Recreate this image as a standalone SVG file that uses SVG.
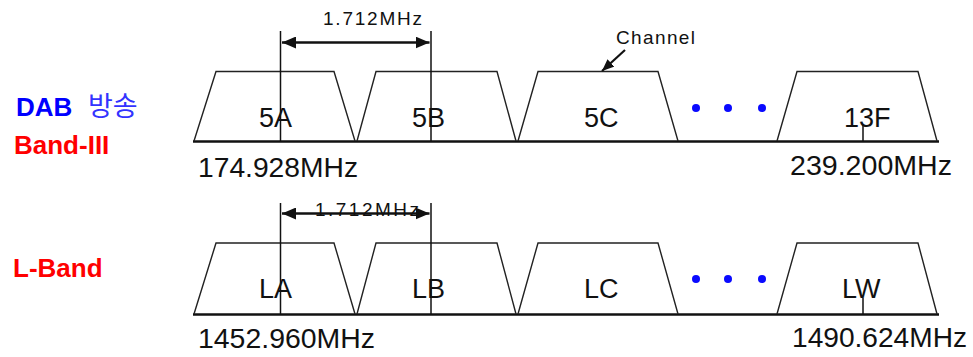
<svg xmlns="http://www.w3.org/2000/svg" width="973" height="357" viewBox="0 0 973 357">
<style>
.tr{fill:none;stroke:#222;stroke-width:1.4}
.base{stroke:#111;stroke-width:2.6}
.vl{stroke:#111;stroke-width:1.5}
.t{font-family:"Liberation Sans",Arial,sans-serif;fill:#111}
.lb{font-size:27px}
.fq{font-size:28px}
.sm{font-size:19px}
.dot{fill:#0a0aff}
.side{font-family:"Liberation Sans",Arial,sans-serif;font-weight:bold;font-size:26px}
</style>
<defs>
<marker id="ah" viewBox="0 0 14 12" refX="14" refY="6" markerWidth="14" markerHeight="12" markerUnits="userSpaceOnUse" orient="auto-start-reverse">
<path d="M0,0 L14,6 L0,12 z" fill="#111"/>
</marker>
<marker id="ah2" viewBox="0 0 12 10" refX="12" refY="5" markerWidth="12" markerHeight="10" markerUnits="userSpaceOnUse" orient="auto">
<path d="M0,0 L12,5 L0,10 z" fill="#111"/>
</marker>
</defs>
<rect width="973" height="357" fill="#fff"/>

<g id="side-labels">
<text class="side" x="16" y="116" fill="#0000ff">DAB</text>
<text x="88" y="116" font-family="'Noto Sans CJK KR','Noto Sans',sans-serif" font-size="27" fill="#3333ff">방송</text>
<text class="side" x="14" y="154" fill="#ff0000">Band-III</text>
<text class="side" x="13" y="277" fill="#ff0000">L-Band</text>
</g>

<!-- Band III -->
<g id="band3-base"><line class="base" x1="193" y1="141.5" x2="939" y2="141.5"/></g>
<g id="ch-5A"><polyline class="tr" points="194,141 216,71.5 334,71.5 355,141"/><text class="t lb" x="259" y="127">5A</text></g>
<g id="ch-5B"><polyline class="tr" points="357,141 376,71.5 497,71.5 516,141"/><text class="t lb" x="412" y="127">5B</text></g>
<g id="ch-5C"><polyline class="tr" points="518,141 538,71.5 658,71.5 678,141"/><text class="t lb" x="584" y="127">5C</text></g>
<g id="ch-13F"><polyline class="tr" points="777,141 797,71.5 918,71.5 937,141"/><text class="t lb" x="844" y="127">13F</text><line class="vl" x1="863" y1="125" x2="863" y2="141"/></g>
<g id="dots-top"><circle class="dot" cx="696" cy="108" r="4"/><circle class="dot" cx="728" cy="108" r="4"/><circle class="dot" cx="762" cy="108" r="4"/></g>
<text class="t fq" x="198" y="177" textLength="160" lengthAdjust="spacingAndGlyphs">174.928MHz</text>
<text class="t fq" x="790" y="175" textLength="162" lengthAdjust="spacingAndGlyphs">239.200MHz</text>
<text class="t sm" x="323" y="25" textLength="99" lengthAdjust="spacing">1.712MHz</text>
<text class="t sm" x="616" y="44" textLength="79" lengthAdjust="spacing">Channel</text>

<!-- L-Band -->
<g id="lband-base"><line class="base" x1="193" y1="314.5" x2="939" y2="314.5"/></g>
<g id="ch-LA"><polyline class="tr" points="194,314 216,243 334,243 355,314"/><text class="t lb" x="259" y="298">LA</text></g>
<g id="ch-LB"><polyline class="tr" points="357,314 376,243 497,243 516,314"/><text class="t lb" x="412" y="298">LB</text></g>
<g id="ch-LC"><polyline class="tr" points="518,314 538,243 658,243 678,314"/><text class="t lb" x="584" y="298">LC</text></g>
<g id="ch-LW"><polyline class="tr" points="777,314 797,243 918,243 937,314"/><text class="t lb" x="842" y="298">LW</text><line class="vl" x1="863" y1="298" x2="863" y2="314"/></g>
<g id="dots-bottom"><circle class="dot" cx="696" cy="279" r="4"/><circle class="dot" cx="728" cy="279" r="4"/><circle class="dot" cx="762" cy="279" r="4"/></g>
<text class="t fq" x="198" y="348" textLength="177" lengthAdjust="spacingAndGlyphs">1452.960MHz</text>
<text class="t fq" x="792" y="347" textLength="175" lengthAdjust="spacingAndGlyphs">1490.624MHz</text>
<text class="t sm" x="315" y="216" textLength="104" lengthAdjust="spacing">1.712MHz</text>

<g id="connectors">
<line class="vl" x1="280.5" y1="31" x2="280.5" y2="141"/>
<line class="vl" x1="431" y1="31" x2="431" y2="141"/>
<line x1="282" y1="42.5" x2="429.5" y2="42.5" stroke="#111" stroke-width="2.6" marker-start="url(#ah)" marker-end="url(#ah)"/>
<line class="vl" x1="280.5" y1="203" x2="280.5" y2="314"/>
<line class="vl" x1="431" y1="203" x2="431" y2="314"/>
<line x1="282" y1="213.5" x2="429.5" y2="213.5" stroke="#111" stroke-width="2.6" marker-start="url(#ah)" marker-end="url(#ah)"/>
<line x1="625" y1="50" x2="602" y2="71" stroke="#111" stroke-width="2.2" marker-end="url(#ah2)"/>
</g>
</svg>
